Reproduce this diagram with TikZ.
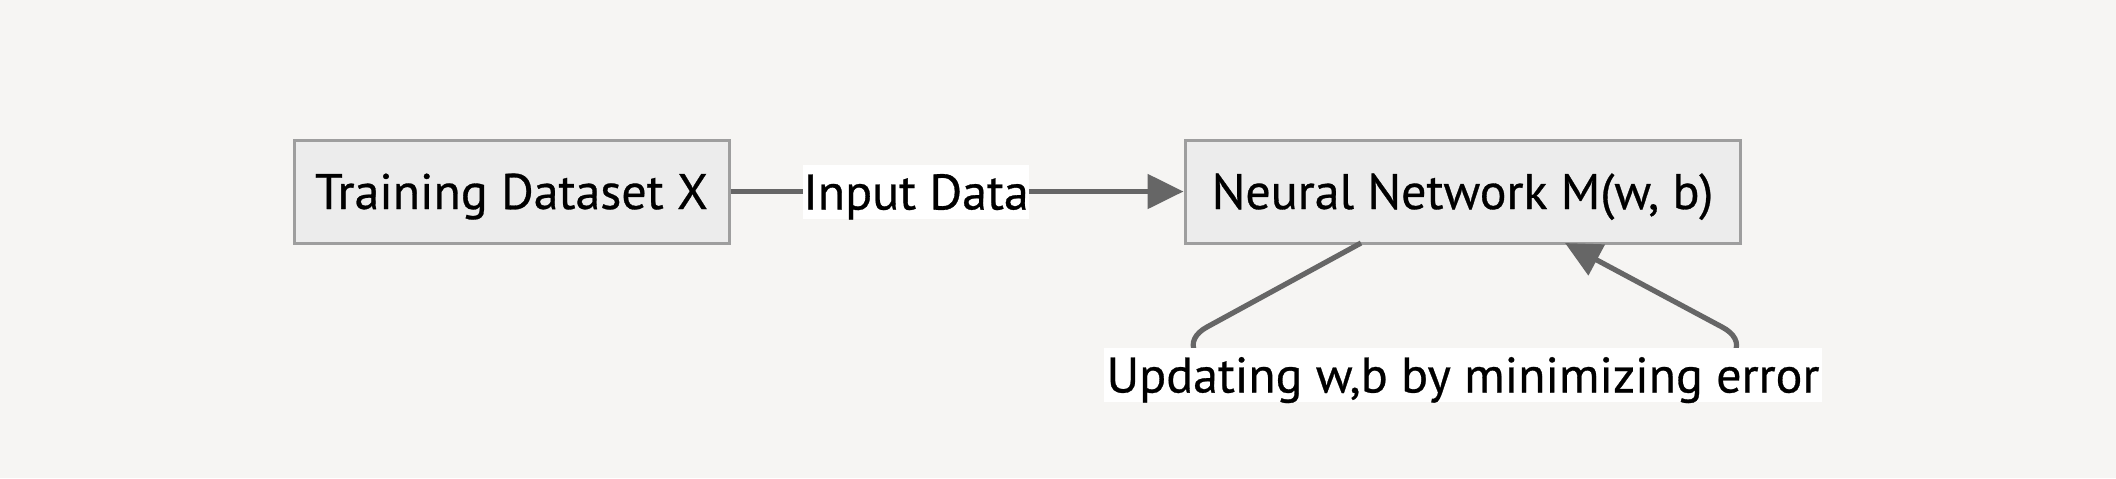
\documentclass[tikz,border=0pt]{standalone}
\usepackage{fontspec}
\setmainfont[FakeBold=0.6]{PT Sans}
\usetikzlibrary{arrows.meta}
\definecolor{bgc}{HTML}{F6F5F3}
\definecolor{boxfill}{HTML}{ECECEC}
\definecolor{boxline}{HTML}{9E9E9E}
\definecolor{edgec}{HTML}{666666}
\tikzset{
  nodebox/.style={draw=boxline, fill=boxfill, line width=1.5pt, inner sep=0pt,
    minimum height=51.5pt, text height=17.5pt, text depth=0pt,
    font=\fontsize{25}{28}\selectfont, text=black},
  edgelabel/.style={fill=white, inner sep=0pt, minimum height=27pt,
    text height=17.5pt, text depth=0pt,
    font=\fontsize{25}{28}\selectfont, text=black},
  flow/.style={draw=edgec, line width=2.6pt, -{Triangle[length=18pt,width=17pt]}},
}
\begin{document}
\begin{tikzpicture}[x=0.5pt,y=-0.5pt]
\fill[bgc] (0,0) rectangle (2116,478);
\useasboundingbox (0,0) rectangle (2116,478);
\node[nodebox, minimum width=217.5pt] (train) at (511.5,191.5) {Training Dataset X};
\node[nodebox, minimum width=277.5pt] (nn) at (1462.5,191.5) {Neural Network M(w, b)};
\coordinate (loopstart) at (1361,243);
\coordinate (loopend) at (1565,243);
\draw[flow] (train.east) -- (nn.west);
\draw[flow] (loopstart) -- (1207,327) .. controls (1183,340) and (1188,365) .. (1240,372)
  -- (1690,372) .. controls (1742,365) and (1747,340) .. (1722,327) -- (loopend);
\node[edgelabel, minimum width=112pt] (lab1) at (916,192) {Input Data};
\node[edgelabel, minimum width=359pt] (lab2) at (1463,375) {Updating w,b by minimizing error};
\end{tikzpicture}
\end{document}
